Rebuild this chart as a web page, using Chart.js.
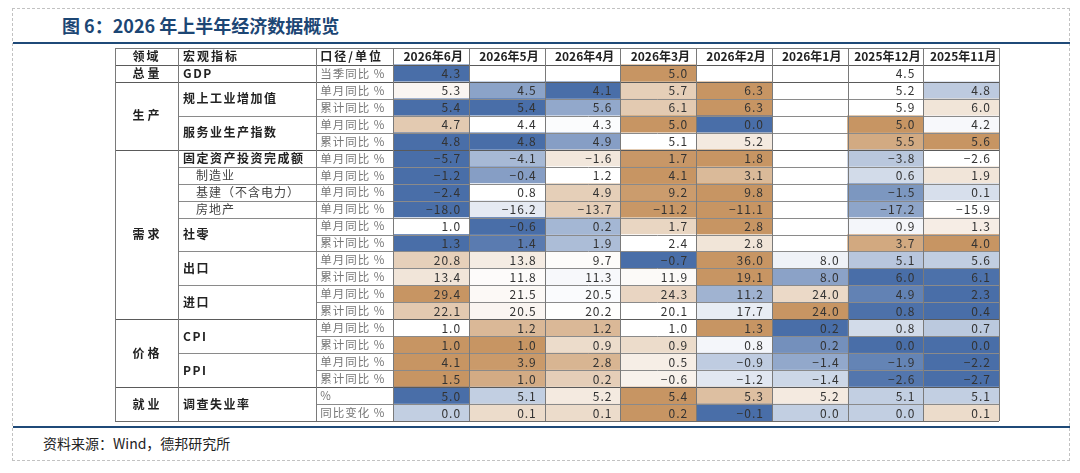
<!DOCTYPE html>
<html lang="zh-CN">
<head>
  <meta charset="UTF-8">
  <title>2026年上半年经济数据概览</title>
  <style>
    html, body { margin: 0; padding: 0; background: #fff; }
    body { width: 1080px; height: 473px; position: relative; overflow: hidden; font-family: "Noto Sans CJK SC", sans-serif; }
    #moldura { position: absolute; left: 12px; top: 8px; width: 1058px; height: 453px; border: 1px dashed #c2c2c2; box-sizing: border-box; }
    #titulo { position: absolute; left: 62px; top: 13px; font-size: 18px; font-weight: bold; color: #1c4674; line-height: 24px; white-space: nowrap; }
    .linha { position: absolute; left: 13px; width: 1057px; height: 2px; background: #1f4a78; }
    #fonte { position: absolute; left: 43px; top: 433px; font-size: 14px; color: #222; line-height: 20px; }
    #caixa { position: absolute; left: 114px; top: 47px; width: 886px; height: 375px; }
  </style>
</head>
<body>
  <div id="moldura"></div>
  <div id="titulo">图 6：2026 年上半年经济数据概览</div>
  <div class="linha" style="top:42px"></div>
  <div id="caixa"><canvas id="meuCanvas"></canvas></div>
  <div class="linha" style="top:426px"></div>
  <div id="fonte">资料来源：Wind，德邦研究所</div>

  <script src="https://cdn.jsdelivr.net/npm/chart.js"></script>
  <script>
    // colunas (meses)
    const meses = ['2026年6月', '2026年5月', '2026年4月', '2026年3月', '2026年2月', '2026年1月', '2025年12月', '2025年11月'];

    // cabeçalho das colunas de texto
    const cabecalho = ['领域', '宏观指标', '口径/单位'];

    // grupos: [nome, nº de linhas]
    const dominios = [['总量', 1], ['生产', 4], ['需求', 10], ['价格', 4], ['就业', 2]];
    const indicadores = [
      ['GDP', 1, true], ['规上工业增加值', 2, true], ['服务业生产指数', 2, true],
      ['固定资产投资完成额', 1, true], ['制造业', 1, false], ['基建（不含电力）', 1, false], ['房地产', 1, false],
      ['社零', 2, true], ['出口', 2, true], ['进口', 2, true],
      ['CPI', 2, true], ['PPI', 2, true], ['调查失业率', 2, true]
    ];
    const unidades = [
      '当季同比 %', '单月同比 %', '累计同比 %', '单月同比 %', '累计同比 %',
      '单月同比 %', '单月同比 %', '单月同比 %', '单月同比 %',
      '单月同比 %', '累计同比 %', '单月同比 %', '累计同比 %', '单月同比 %', '累计同比 %',
      '单月同比 %', '累计同比 %', '单月同比 %', '累计同比 %',
      '%', '同比变化 %'
    ];

    // valores por linha (ordem das colunas = meses)
    const gdpTrimestre   = [4.3, null, null, 5.0, null, null, 4.5, null];
    const industriaMes   = [5.3, 4.5, 4.1, 5.7, 6.3, null, 5.2, 4.8];
    const industriaAcum  = [5.4, 5.4, 5.6, 6.1, 6.3, null, 5.9, 6.0];
    const servicosMes    = [4.7, 4.4, 4.3, 5.0, 0.0, null, 5.0, 4.2];
    const servicosAcum   = [4.8, 4.8, 4.9, 5.1, 5.2, null, 5.5, 5.6];
    const investimento   = [-5.7, -4.1, -1.6, 1.7, 1.8, null, -3.8, -2.6];
    const manufatura     = [-1.2, -0.4, 1.2, 4.1, 3.1, null, 0.6, 1.9];
    const infraestrutura = [-2.4, 0.8, 4.9, 9.2, 9.8, null, -1.5, 0.1];
    const imobiliario    = [-18.0, -16.2, -13.7, -11.2, -11.1, null, -17.2, -15.9];
    const varejoMes      = [1.0, -0.6, 0.2, 1.7, 2.8, null, 0.9, 1.3];
    const varejoAcum     = [1.3, 1.4, 1.9, 2.4, 2.8, null, 3.7, 4.0];
    const exportMes      = [20.8, 13.8, 9.7, -0.7, 36.0, 8.0, 5.1, 5.6];
    const exportAcum     = [13.4, 11.8, 11.3, 11.9, 19.1, 8.0, 6.0, 6.1];
    const importMes      = [29.4, 21.5, 20.5, 24.3, 11.2, 24.0, 4.9, 2.3];
    const importAcum     = [22.1, 20.5, 20.2, 20.1, 17.7, 24.0, 0.8, 0.4];
    const cpiMes         = [1.0, 1.2, 1.2, 1.0, 1.3, 0.2, 0.8, 0.7];
    const cpiAcum        = [1.0, 1.0, 0.9, 0.9, 0.8, 0.2, 0.0, 0.0];
    const ppiMes         = [4.1, 3.9, 2.8, 0.5, -0.9, -1.4, -1.9, -2.2];
    const ppiAcum        = [1.5, 1.0, 0.2, -0.6, -1.2, -1.4, -2.6, -2.7];
    const desemprego     = [5.0, 5.1, 5.2, 5.4, 5.3, 5.2, 5.1, 5.1];
    const desempregoVar  = [0.0, 0.1, 0.1, 0.2, -0.1, 0.0, 0.0, 0.1];

    const linhas = [gdpTrimestre, industriaMes, industriaAcum, servicosMes, servicosAcum,
      investimento, manufatura, infraestrutura, imobiliario, varejoMes, varejoAcum,
      exportMes, exportAcum, importMes, importAcum, cpiMes, cpiAcum, ppiMes, ppiAcum,
      desemprego, desempregoVar];

    // larguras das colunas (unidades do eixo x)
    const largTexto = [63, 138, 77];
    const largMes = 75.6;
    const bordas = [0];
    largTexto.forEach(w => bordas.push(bordas[bordas.length - 1] + w));
    meses.forEach(() => bordas.push(bordas[bordas.length - 1] + largMes));

    const AZUL = [73, 110, 168];
    const MARROM = [199, 149, 99];

    function mediana(s) {
      const p = (s.length - 1) * 0.5, lo = Math.floor(p), hi = Math.ceil(p);
      return s[lo] + (s[hi] - s[lo]) * (p - lo);
    }

    // escala de 3 cores por linha: mínimo azul, mediana branco, máximo marrom
    function corCelula(vals, v) {
      const s = vals.filter(x => x != null).sort((a, b) => a - b);
      const mn = s[0], mx = s[s.length - 1], md = mediana(s);
      let alvo, t;
      if (v <= md) { alvo = AZUL; t = md === mn ? 0 : (md - v) / (md - mn); }
      else { alvo = MARROM; t = mx === md ? 0 : (v - md) / (mx - md); }
      const c = alvo.map(k => Math.round(255 + (k - 255) * t));
      return `rgb(${c[0]},${c[1]},${c[2]})`;
    }

    const rotulosY = ['cabecalho'].concat(linhas.map((_, i) => 'L' + i));

    const datasets = meses.map((m, j) => ({
      label: m,
      data: [null].concat(linhas.map(r => r[j] == null ? null : [bordas[3 + j], bordas[4 + j]])),
      backgroundColor: ['#fff'].concat(linhas.map(r => r[j] == null ? '#fff' : corCelula(r, r[j]))),
      borderWidth: 0,
      grouped: false,
      barPercentage: 1,
      categoryPercentage: 1
    }));

    const fmt = v => (v < 0 ? '\u2212' : '') + Math.abs(v).toFixed(1);

    const tabela = {
      id: 'tabela',
      afterDatasetsDraw(chart) {
        const c = chart.ctx;
        const xs = chart.scales.x, ys = chart.scales.y;
        const X = u => xs.getPixelForValue(u);
        const band = ys.getPixelForValue(1) - ys.getPixelForValue(0);
        const topo = i => ys.getPixelForValue(i) - band / 2;
        const meio = (i, n) => topo(i) + band * n / 2;
        const nLin = rotulosY.length;
        const esq = X(0), dir = X(bordas[bordas.length - 1]);

        c.save();
        c.textBaseline = 'middle';

        // cabeçalho
        c.fillStyle = '#222';
        c.font = 'bold 12px "Noto Sans CJK SC"';
        c.letterSpacing = '2px';
        c.textAlign = 'center';
        c.fillText(cabecalho[0], (X(bordas[0]) + X(bordas[1])) / 2, meio(0, 1));
        c.textAlign = 'left';
        c.fillText(cabecalho[1], X(bordas[1]) + 5, meio(0, 1));
        c.fillText(cabecalho[2], X(bordas[2]) + 4, meio(0, 1));
        c.letterSpacing = '0px';
        c.textAlign = 'center';
        meses.forEach((m, j) => c.fillText(m, (X(bordas[3 + j]) + X(bordas[4 + j])) / 2 + 2, meio(0, 1)));

        // domínios
        c.letterSpacing = '3px';
        let r = 1;
        const limDominio = [];
        dominios.forEach(([nome, n]) => {
          limDominio.push(r);
          c.fillText(nome, (X(bordas[0]) + X(bordas[1])) / 2 + 1, meio(r, n));
          r += n;
        });

        // indicadores
        c.textAlign = 'left';
        r = 1;
        const limIndic = [];
        indicadores.forEach(([nome, n, principal]) => {
          limIndic.push(r);
          c.letterSpacing = principal ? '1.5px' : '1px';
          c.font = (principal ? 'bold ' : '') + '12px "Noto Sans CJK SC"';
          c.fillStyle = principal ? '#222' : '#444';
          c.fillText(nome, X(bordas[1]) + (principal ? 5 : 18), meio(r, n));
          r += n;
        });

        // unidades
        c.font = '11.5px "Noto Sans CJK SC"';
        c.fillStyle = '#777';
        c.letterSpacing = '1px';
        unidades.forEach((u, i) => c.fillText(u, X(bordas[2]) + 4, meio(i + 1, 1)));

        // valores
        c.font = '12px "Noto Sans CJK SC"';
        c.fillStyle = '#333';
        c.textAlign = 'right';
        c.letterSpacing = '1px';
        linhas.forEach((vals, i) => {
          vals.forEach((v, j) => {
            if (v == null) return;
            c.fillText(fmt(v), X(bordas[4 + j]) - 8, meio(i + 1, 1) + 0.5);
          });
        });

        // grade
        const hLinha = (y, x0, x1, cor) => {
          c.strokeStyle = cor; c.lineWidth = 1;
          c.beginPath(); c.moveTo(x0, Math.round(y) + 0.5); c.lineTo(x1, Math.round(y) + 0.5); c.stroke();
        };
        for (let k = 2; k < nLin; k++) {
          if (limDominio.includes(k)) hLinha(topo(k), esq, dir, '#5a5a5a');
          else if (limIndic.includes(k)) hLinha(topo(k), X(bordas[1]), dir, '#8a8a8a');
          else hLinha(topo(k), X(bordas[2]), dir, '#8a8a8a');
        }
        hLinha(topo(0), esq, dir, '#7a7a7a');
        hLinha(topo(1), esq, dir, '#5a5a5a');
        hLinha(topo(nLin), esq, dir, '#6a6a6a');

        c.strokeStyle = '#7a7a7a';
        bordas.forEach(b => {
          const x = Math.round(X(b)) + 0.5;
          c.beginPath(); c.moveTo(x, topo(0)); c.lineTo(x, topo(nLin)); c.stroke();
        });
        c.restore();
      }
    };

    window.onload = function () {
      const ctx = document.getElementById('meuCanvas').getContext('2d');
      new Chart(ctx, {
        type: 'bar',
        data: { labels: rotulosY, datasets: datasets },
        options: {
          indexAxis: 'y',
          responsive: true,
          maintainAspectRatio: false,
          animation: false,
          layout: { padding: 1 },
          plugins: { legend: { display: false }, tooltip: { enabled: false }, title: { display: false } },
          scales: {
            x: { type: 'linear', display: false, min: 0, max: bordas[bordas.length - 1] },
            y: { type: 'category', display: false, offset: true }
          }
        },
        plugins: [tabela]
      });
    };
  </script>
</body>
</html>
